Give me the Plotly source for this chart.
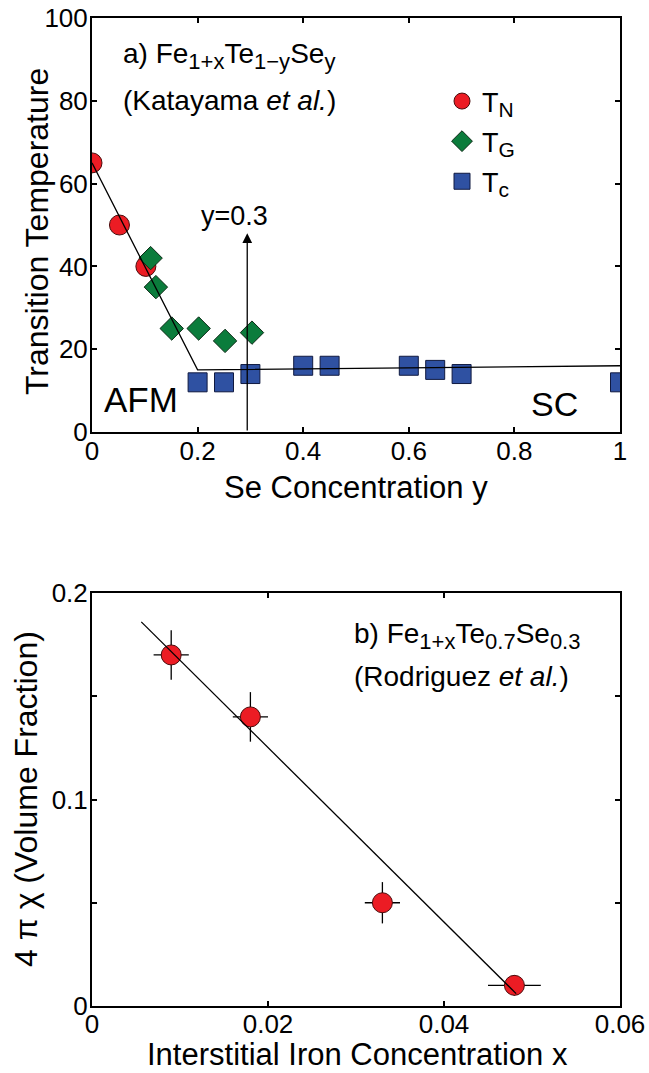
import plotly.graph_objects as go

W, H = 649, 1073

# ---- (a) Fe1+xTe1-ySey phase diagram (Katayama et al.) ----
tn_y = [0.0, 0.052, 0.102]
tn_t = [65, 50, 40]

tg_y = [0.111, 0.121, 0.151, 0.202, 0.252, 0.303]
tg_t = [42, 35, 25, 25, 22, 24]

tc_y = [0.20, 0.25, 0.30, 0.40, 0.45, 0.60, 0.65, 0.70, 1.00]
tc_t = [12, 12, 14, 16, 16, 16, 15, 14, 12]

guide_y = [0.0, 0.20, 1.00]
guide_t = [65, 15, 16]

cut_y = 0.294
cut_top = 48

# ---- (b) volume fraction vs interstitial iron (Rodriguez et al.) ----
fe_x = [0.009, 0.018, 0.033, 0.048]
chi = [0.170, 0.140, 0.050, 0.010]
fe_x_err = [0.002, 0.002, 0.002, 0.003]
chi_err = [0.012, 0.012, 0.010, 0.005]

fit_x = [0.0056, 0.0482]
fit_chi = [0.186, 0.006]

x1_ticks = [0, 0.2, 0.4, 0.6, 0.8, 1.0]
x1_labels = ["0", "0.2", "0.4", "0.6", "0.8", "1"]
y1_ticks = [0, 20, 40, 60, 80, 100]
x2_ticks = [0, 0.02, 0.04, 0.06]
x2_labels = ["0", "0.02", "0.04", "0.06"]
y2_ticks = [0, 0.05, 0.1, 0.15, 0.2]
y2_labels = ["0", "", "0.1", "", "0.2"]

FONT = "Liberation Sans, Arial, Helvetica, sans-serif"
RED = "#ec1c24"
GREEN = "#0b7c3c"
BLUE = "#2f51a2"


def px(x):
    return x / W


def py(y):
    return 1 - y / H


def sub(s, size=22):
    return "<sub><span style='font-size:%dpx'>%s</span></sub>" % (size, s)


fig = go.Figure()

fig.add_trace(go.Scatter(x=tn_y, y=tn_t, mode="markers", name="T" + sub("N", 21),
                         legendgroup="tn",
                         marker=dict(symbol="circle", size=20, color=RED,
                                     line=dict(color="#4a0c0c", width=1)),
                         xaxis="x", yaxis="y"))
fig.add_trace(go.Scatter(x=tg_y, y=tg_t, mode="markers", name="T" + sub("G", 21),
                         legendgroup="tg",
                         marker=dict(symbol="diamond", size=18, color=GREEN,
                                     line=dict(color="#0a2a14", width=1)),
                         xaxis="x", yaxis="y"))
fig.add_trace(go.Scatter(x=tc_y, y=tc_t, mode="markers", name="T" + sub("c", 21),
                         legendgroup="tc",
                         marker=dict(symbol="square", size=19, color=BLUE,
                                     line=dict(color="#101a40", width=1)),
                         xaxis="x", yaxis="y"))
fig.add_trace(go.Scatter(x=guide_y, y=guide_t, mode="lines", showlegend=False,
                         line=dict(color="black", width=1.3),
                         xaxis="x", yaxis="y"))

fig.add_trace(go.Scatter(x=fe_x, y=chi, mode="markers", showlegend=False,
                         marker=dict(symbol="circle", size=20, color=RED,
                                     line=dict(color="#4a0c0c", width=1)),
                         error_x=dict(type="data", array=fe_x_err, color="black",
                                      thickness=1.3, width=0),
                         error_y=dict(type="data", array=chi_err, color="black",
                                      thickness=1.3, width=0),
                         xaxis="x2", yaxis="y2"))
fig.add_trace(go.Scatter(x=fit_x, y=fit_chi, mode="lines", showlegend=False,
                         line=dict(color="black", width=1.3),
                         xaxis="x2", yaxis="y2"))

axis_common = dict(showline=True, linecolor="black", linewidth=2, mirror="allticks",
                   ticks="inside", ticklen=5, tickwidth=1.5, tickcolor="black",
                   showgrid=False, zeroline=False, automargin=False,
                   tickfont=dict(family=FONT, size=26, color="black"))

xdom = [px(92), px(620)]
fig.update_layout(
    width=W, height=H, autosize=False,
    margin=dict(l=0, r=0, t=0, b=0, pad=0),
    paper_bgcolor="white", plot_bgcolor="white",
    font=dict(family=FONT, color="black"),
    xaxis=dict(domain=xdom, range=[0, 1], tickvals=x1_ticks, ticktext=x1_labels,
               anchor="y", ticklabelstandoff=-5, **axis_common),
    yaxis=dict(domain=[py(432), py(18)], range=[0, 100], tickvals=y1_ticks,
               anchor="x", ticklabelstandoff=-3, **axis_common),
    xaxis2=dict(domain=xdom, range=[0, 0.06], tickvals=x2_ticks, ticktext=x2_labels,
                anchor="y2", ticklabelstandoff=-6, **axis_common),
    yaxis2=dict(domain=[py(1006), py(593)], range=[0, 0.2], tickvals=y2_ticks,
                ticktext=y2_labels, anchor="x2", ticklabelstandoff=-3, **axis_common),
    legend=dict(x=px(442), y=py(77), xanchor="left", yanchor="top",
                bgcolor="rgba(0,0,0,0)", borderwidth=0,
                font=dict(family=FONT, size=27, color="black"),
                itemsizing="trace", tracegroupgap=2),
)

ann = [
    # axis titles
    dict(text="Transition Temperature", x=px(37), y=py(232), textangle=-90, size=32),
    dict(text="Se Concentration y", x=px(356), y=py(488), size=31),
    dict(text="4 π χ (Volume Fraction)", x=px(26), y=py(799), textangle=-90, size=32),
    dict(text="Interstitial Iron Concentration x", x=px(357), y=py(1054), size=31),
    # panel labels
    dict(text="a) Fe" + sub("1+x") + "Te" + sub("1−y") + "Se" + sub("y"),
         x=px(121), y=py(56), size=28, xanchor="left"),
    dict(text="(Katayama <i>et al.</i>)", x=px(121), y=py(101), size=28, xanchor="left"),
    dict(text="b) Fe" + sub("1+x") + "Te" + sub("0.7") + "Se" + sub("0.3"),
         x=px(352), y=py(636), size=28, xanchor="left"),
    dict(text="(Rodriguez <i>et al.</i>)", x=px(352), y=py(676), size=28, xanchor="left"),
    # phase labels
    dict(text="AFM", x=px(141), y=py(400), size=35),
    dict(text="SC", x=px(554), y=py(404), size=34),
    dict(text="y=0.3", x=px(234), y=py(216), size=27),
]

annotations = []
for a in ann:
    annotations.append(dict(
        text=a["text"], x=a["x"], y=a["y"], xref="paper", yref="paper",
        xanchor=a.get("xanchor", "center"), yanchor="middle",
        textangle=a.get("textangle", 0), showarrow=False,
        font=dict(family=FONT, size=a["size"], color="black")))

# arrow marking the y=0.3 composition
annotations.append(dict(x=cut_y, y=cut_top, ax=cut_y, ay=0, xref="x", yref="y",
                        axref="x", ayref="y", showarrow=True, arrowhead=2,
                        arrowsize=1.5, arrowwidth=1.3, arrowcolor="black", text=""))

fig.update_layout(annotations=annotations)

fig.write_html("out.html")
